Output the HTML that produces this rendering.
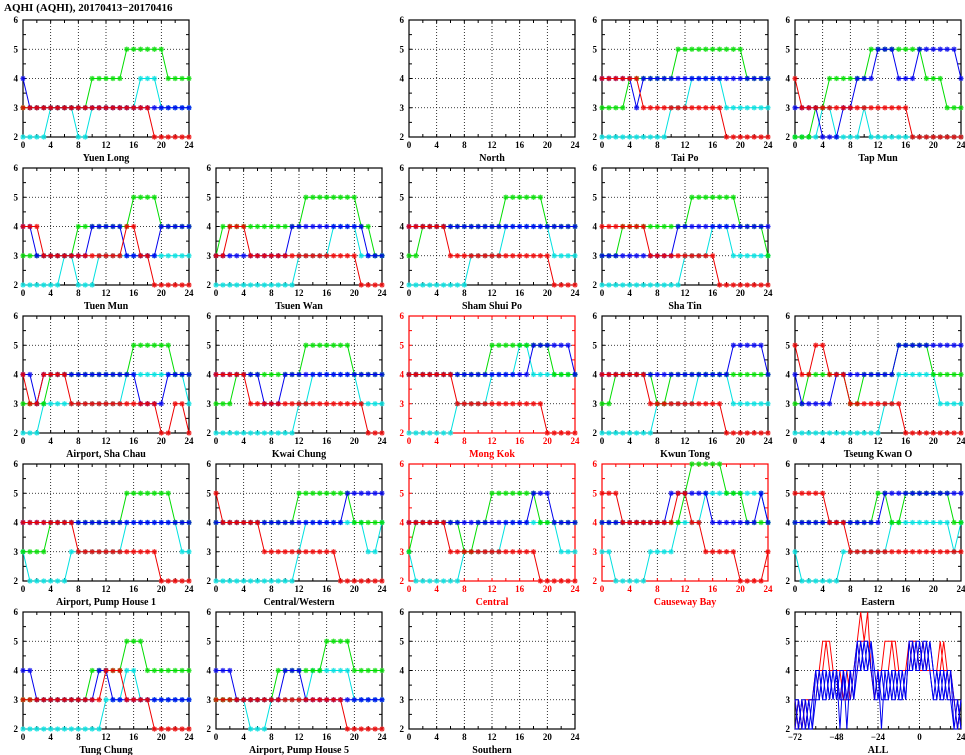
<!DOCTYPE html>
<html><head><meta charset="utf-8"><style>
html,body{margin:0;padding:0;background:#fff;}
svg{display:block;font-family:"Liberation Serif",serif;font-weight:bold;}
</style></head><body>
<svg id="chart" width="965" height="755" viewBox="0 0 965 755" xmlns="http://www.w3.org/2000/svg">
<text x="4" y="11" font-size="11">AQHI (AQHI), 20170413−20170416</text>
</svg>
<script>
// ---- data ----
const hours = [0,1,2,3,4,5,6,7,8,9,10,11,12,13,14,15,16,17,18,19,20,21,22,23,24];
const stationNames = ["Yuen Long","North","Tai Po","Tap Mun","Tuen Mun","Tsuen Wan","Sham Shui Po","Sha Tin","Airport, Sha Chau","Kwai Chung","Mong Kok","Kwun Tong","Tseung Kwan O","Airport, Pump House 1","Central/Western","Central","Causeway Bay","Eastern","Tung Chung","Airport, Pump House 5","Southern"];
const stationCells = [[0,0],[0,2],[0,3],[0,4],[1,0],[1,1],[1,2],[1,3],[2,0],[2,1],[2,2],[2,3],[2,4],[3,0],[3,1],[3,2],[3,3],[3,4],[4,0],[4,1],[4,2]];
const highlighted = ["Mong Kok","Central","Causeway Bay"];
const seriesColors = ["#00e0e0","#00dd00","#0000ee","#ee0000"]; // cyan, green, blue, red
function rep(v,n){return Array(n).fill(v);}
const cyanVals = {
"Yuen Long":[2,2,2,2,3,3,3,3,2,2,3,3,3,3,3,3,3,4,4,4,3,3,3,3,3],
"Tai Po":[...rep(2,10),...rep(3,3),...rep(4,5),...rep(3,7)],
"Tap Mun":[2,2,2,2,3,3,2,2,2,2,3,...rep(2,14)],
"Tuen Mun":[...rep(2,6),3,3,2,2,2,...rep(3,14)],
"Tsuen Wan":[...rep(2,12),...rep(3,5),...rep(4,4),...rep(3,4)],
"Sham Shui Po":[...rep(2,9),...rep(3,5),...rep(4,7),...rep(3,4)],
"Sha Tin":[...rep(2,12),...rep(3,4),...rep(4,3),...rep(3,6)],
"Airport, Sha Chau":[2,2,2,3,3,3,3,3,3,3,3,3,3,3,3,4,4,4,4,4,4,4,4,4,3],
"Kwai Chung":[...rep(2,12),3,3,...rep(4,7),...rep(3,4)],
"Mong Kok":[...rep(2,7),...rep(3,5),...rep(4,4),5,5,...rep(4,7)],
"Kwun Tong":[...rep(2,8),...rep(3,6),...rep(4,5),...rep(3,6)],
"Tseung Kwan O":[...rep(2,13),3,3,...rep(4,6),...rep(3,4)],
"Airport, Pump House 1":[3,2,2,2,2,2,2,...rep(3,8),...rep(4,8),3,3],
"Central/Western":[...rep(2,12),3,...rep(4,9),3,3,4],
"Central":[3,2,2,2,2,2,2,2,3,3,3,3,3,3,...rep(4,8),3,3,3],
"Causeway Bay":[3,3,2,2,2,2,2,3,3,3,3,4,4,4,4,...rep(5,9),4],
"Eastern":[3,2,2,2,2,2,2,3,3,3,3,3,3,3,...rep(4,9),3,4],
"Tung Chung":[...rep(2,12),3,3,3,4,4,...rep(3,8)],
"Airport, Pump House 5":[3,3,3,3,3,2,2,2,3,3,3,3,3,3,4,4,4,4,4,4,3,3,3,3,3]
};
const greenVals = {
"Yuen Long":[...rep(3,10),...rep(4,5),...rep(5,6),...rep(4,4)],
"Tai Po":[3,3,3,3,4,4,4,4,4,4,4,5,5,5,5,5,5,5,5,5,5,4,4,4,4],
"Tap Mun":[2,2,2,3,3,4,4,4,4,4,4,5,5,5,5,5,5,5,5,4,4,4,3,3,3],
"Tuen Mun":[...rep(3,8),...rep(4,8),5,5,5,5,4,4,4,4,4],
"Tsuen Wan":[3,...rep(4,12),...rep(5,8),4,4,3,3],
"Sham Shui Po":[3,3,...rep(4,12),...rep(5,6),...rep(4,5)],
"Sha Tin":[3,3,3,...rep(4,10),...rep(5,7),...rep(4,4),3],
"Airport, Sha Chau":[3,3,3,3,...rep(4,12),...rep(5,6),...rep(4,3)],
"Kwai Chung":[3,3,3,...rep(4,10),...rep(5,7),...rep(4,5)],
"Mong Kok":[...rep(4,12),...rep(5,9),...rep(4,4)],
"Kwun Tong":[3,3,4,4,4,4,4,4,3,3,...rep(4,15)],
"Tseung Kwan O":[3,3,4,4,4,4,4,4,3,3,4,4,4,4,4,5,5,5,5,5,4,4,4,4,4],
"Airport, Pump House 1":[...rep(3,4),...rep(4,11),...rep(5,7),...rep(4,3)],
"Central/Western":[...rep(4,12),...rep(5,8),...rep(4,5)],
"Central":[3,4,4,4,4,4,4,4,3,3,4,4,...rep(5,7),...rep(4,6)],
"Causeway Bay":[...rep(4,12),5,6,6,6,6,6,5,5,5,4,4,4,4],
"Eastern":[...rep(4,12),5,5,4,4,...rep(5,7),4,4],
"Tung Chung":[...rep(3,10),...rep(4,5),...rep(5,3),...rep(4,7)],
"Airport, Pump House 5":[...rep(3,9),...rep(4,7),...rep(5,4),...rep(4,5)]
};
const blueVals = {
"Yuen Long":[4,...rep(3,24)],
"Tai Po":[4,4,4,4,4,3,...rep(4,19)],
"Tap Mun":[3,3,3,3,2,2,2,3,3,4,4,4,5,5,5,4,4,4,5,5,5,5,5,5,4],
"Tuen Mun":[4,4,3,3,3,3,3,3,3,3,4,4,4,4,4,3,3,3,3,3,4,4,4,4,4],
"Tsuen Wan":[...rep(3,11),...rep(4,11),...rep(3,3)],
"Sham Shui Po":[...rep(4,25)],
"Sha Tin":[...rep(3,11),...rep(4,14)],
"Airport, Sha Chau":[4,4,3,...rep(4,14),...rep(3,4),...rep(4,4)],
"Kwai Chung":[...rep(4,7),3,3,3,...rep(4,15)],
"Mong Kok":[...rep(4,18),...rep(5,6),4],
"Kwun Tong":[...rep(4,19),...rep(5,5),4],
"Tseung Kwan O":[4,3,3,3,3,3,...rep(4,9),...rep(5,10)],
"Airport, Pump House 1":[...rep(4,25)],
"Central/Western":[...rep(4,19),...rep(5,6)],
"Central":[...rep(4,18),5,5,5,...rep(4,4)],
"Causeway Bay":[...rep(4,10),...rep(5,6),...rep(4,7),5,4],
"Eastern":[...rep(4,13),...rep(5,12)],
"Tung Chung":[4,4,...rep(3,9),4,4,...rep(3,12)],
"Airport, Pump House 5":[4,4,4,...rep(3,7),4,4,4,...rep(3,12)]
};
const redVals = {
"Yuen Long":[...rep(3,19),...rep(2,6)],
"Tai Po":[...rep(4,6),...rep(3,12),...rep(2,7)],
"Tap Mun":[4,...rep(3,16),...rep(2,8)],
"Tuen Mun":[4,4,4,3,3,3,3,3,3,3,3,3,3,3,3,4,4,3,3,2,2,2,2,2,2],
"Tsuen Wan":[3,3,4,4,4,...rep(3,16),...rep(2,4)],
"Sham Shui Po":[...rep(4,6),...rep(3,15),...rep(2,4)],
"Sha Tin":[...rep(4,7),...rep(3,10),...rep(2,8)],
"Airport, Sha Chau":[4,3,3,4,4,4,4,...rep(3,13),2,2,3,3,2],
"Kwai Chung":[...rep(4,5),...rep(3,17),...rep(2,3)],
"Mong Kok":[...rep(4,7),...rep(3,13),...rep(2,5)],
"Kwun Tong":[...rep(4,7),...rep(3,11),...rep(2,7)],
"Tseung Kwan O":[5,4,4,5,5,4,4,4,...rep(3,8),...rep(2,9)],
"Airport, Pump House 1":[...rep(4,8),...rep(3,12),...rep(2,5)],
"Central/Western":[5,...rep(4,6),...rep(3,11),...rep(2,7)],
"Central":[...rep(4,6),...rep(3,13),...rep(2,6)],
"Causeway Bay":[5,5,5,4,4,4,4,4,4,4,4,5,5,4,4,3,3,3,3,3,2,2,2,2,3],
"Eastern":[...rep(5,5),...rep(4,3),...rep(3,17)],
"Tung Chung":[...rep(3,12),4,4,4,...rep(3,4),...rep(2,6)],
"Airport, Pump House 5":[...rep(3,19),...rep(2,6)]
};
// ALL panel (hours -72..24 every 2h)
const allHours = [-72,-70,-68,-66,-64,-62,-60,-58,-56,-54,-52,-50,-48,-46,-44,-42,-40,-38,-36,-34,-32,-30,-28,-26,-24,-22,-20,-18,-16,-14,-12,-10,-8,-6,-4,-2,0,2,4,6,8,10,12,14,16,18,20,22,24];
const allRed1 = [2,3,2,3,3,3,4,4,5,5,5,4,4,4,3,3,4,4,5,6,5,6,4,4,4,4,5,5,5,4,4,4,4,5,5,4,4,5,4,4,4,4,5,4,4,3,3,2,3];
const allRed2 = [3,2,3,2,3,3,3,4,4,5,4,4,4,3,4,4,3,4,4,5,5,5,4,3,4,4,4,4,5,5,4,4,4,4,5,5,4,4,4,4,4,4,4,5,4,4,3,3,2];
const allBlue1 = [2,3,2,3,2,3,3,4,3,4,3,4,4,2,4,3,4,3,4,5,4,5,4,3,4,2,4,3,4,3,4,3,4,4,5,4,5,4,5,4,3,4,3,4,3,4,2,3,2];
const allBlue2 = [3,2,3,2,3,2,4,3,4,3,4,3,4,3,4,2,4,4,5,4,5,4,5,4,3,4,3,4,3,4,3,4,3,5,4,5,4,5,4,5,4,3,4,3,4,3,3,2,3];
const allBlue3 = [2,2,3,3,2,2,3,3,4,4,3,4,3,4,4,3,3,4,4,4,5,5,4,4,4,3,3,3,4,4,3,3,4,4,4,5,5,4,4,5,4,4,3,3,4,4,3,3,2];
const allBlue4 = [3,3,2,2,3,3,4,4,3,3,4,3,4,3,3,4,4,3,5,5,4,4,5,3,3,4,4,4,3,3,4,4,3,5,5,4,4,5,5,4,3,3,4,4,3,3,2,2,3];

// ---- layout ----
const NS="http://www.w3.org/2000/svg";
const svg=document.getElementById('chart');
const colLeft=[23,216,409,602,795], rowTop=[20,168,316,464,612];
const PW=166, PH=117;
function el(tag,attrs,parent){const e=document.createElementNS(NS,tag);for(const k in attrs)e.setAttribute(k,attrs[k]);(parent||svg).appendChild(e);return e;}

function drawFrame(g,x0,y0,xmin,xmax,xTicks,xLabels,minorStep,col,title){
  const sx=v=>x0+(v-xmin)/(xmax-xmin)*PW, sy=v=>y0+PH-(v-2)/4*PH;
  for(const t of xTicks){ if(t>xmin&&t<xmax){const l=el('line',{x1:sx(t),x2:sx(t),y1:y0,y2:y0+PH,stroke:'#000','stroke-width':0.8,'stroke-dasharray':'1,2'},g);
    
    }}
  for(const v of [3,4,5]){const l=el('line',{x1:x0,x2:x0+PW,y1:sy(v),y2:sy(v),stroke:'#000','stroke-width':0.8,'stroke-dasharray':'1,2'},g);
    
    }
  for(let t=xmin;t<=xmax;t+=minorStep){
    el('line',{x1:sx(t),x2:sx(t),y1:y0,y2:y0+3,stroke:col,'stroke-width':1},g);
    el('line',{x1:sx(t),x2:sx(t),y1:y0+PH,y2:y0+PH-3,stroke:col,'stroke-width':1},g);
  }
  for(let v=2;v<=6;v+=0.5){
    el('line',{x1:x0,x2:x0+3,y1:sy(v),y2:sy(v),stroke:col,'stroke-width':1},g);
    el('line',{x1:x0+PW,x2:x0+PW-3,y1:sy(v),y2:sy(v),stroke:col,'stroke-width':1},g);
  }
  const f=el('rect',{x:x0,y:y0,width:PW,height:PH,fill:'none',stroke:col,'stroke-width':1.2},g);
  
  
  for(const v of [2,3,4,5,6]){const t=el('text',{x:x0-5,y:sy(v)+3,'font-size':9,'text-anchor':'end',fill:col},g);t.textContent=v;
    
    }
  xLabels.forEach(v=>{const t=el('text',{x:sx(v),y:y0+PH+11,'font-size':9,'text-anchor':'middle',fill:col},g);t.textContent=(v<0?'−'+(-v):v);
    
    });
  const tt=el('text',{x:x0+PW/2,y:y0+PH+24,'font-size':10,'text-anchor':'middle',fill:col},g);tt.textContent=title;
  
  
  return {sx,sy};
}
function drawSeries(g,xs,ys,sx,sy,color,markers,name){
  const pts=xs.map((h,i)=>sx(h)+','+sy(ys[i])).join(' ');
  const p=el('polyline',{points:pts,fill:'none',stroke:color,'stroke-width':1},g);
  
  
  if(!markers)return;
  xs.forEach((h,i)=>{const x=sx(h),y=sy(ys[i]),r=2.6;
    const m=el('path',{d:`M${x-r},${y}H${x+r}M${x},${y-r}V${y+r}M${x-r*0.75},${y-r*0.75}L${x+r*0.75},${y+r*0.75}M${x-r*0.75},${y+r*0.75}L${x+r*0.75},${y-r*0.75}`,stroke:color,'stroke-width':1.3,'stroke-opacity':0.8},g);
    
    });
}
const seriesLists=[cyanVals,greenVals,blueVals,redVals];
const seriesNames=['cyan-series','green-series','blue-series','red-series'];
stationNames.forEach((name,si)=>{
  const [r,c]=stationCells[si];
  const g=el('g',{});
  
  
  const col=highlighted.includes(name)?'#ff0000':'#000';
  const {sx,sy}=drawFrame(g,colLeft[c],rowTop[r],0,24,[4,8,12,16,20],[0,4,8,12,16,20,24],2,col,name);
  seriesLists.forEach((lst,k)=>{ if(lst[name]) drawSeries(g,hours,lst[name],sx,sy,seriesColors[k],true,seriesNames[k]); });
});
// ALL panel
const gAll=el('g',{});


const A=drawFrame(gAll,colLeft[4],rowTop[4],-72,24,[-48,-24,0],[-72,-48,-24,0,24],6,'#000','ALL');
[allRed1,allRed2].forEach(s=>drawSeries(gAll,allHours,s,A.sx,A.sy,'#ff0000',false,'all-red-series'));
[allBlue1,allBlue2,allBlue3,allBlue4].forEach(s=>drawSeries(gAll,allHours,s,A.sx,A.sy,'#0000ee',false,'all-blue-series'));
</script>
</body></html>
